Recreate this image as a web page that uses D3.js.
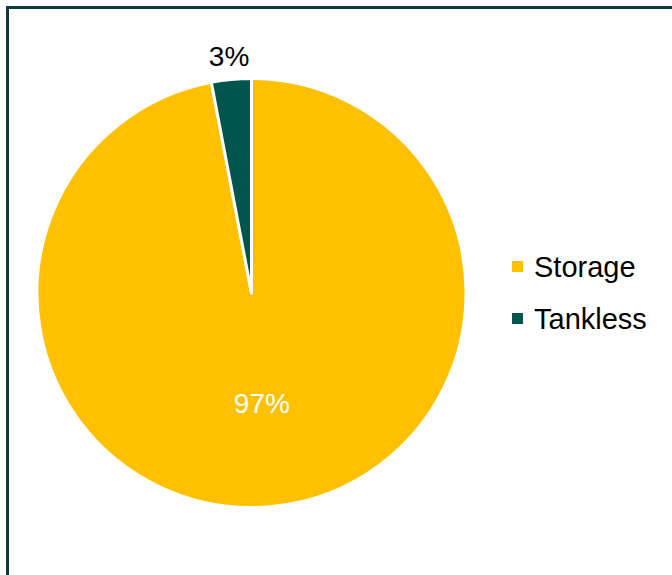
<!DOCTYPE html>
<html>
<head>
<meta charset="utf-8">
<script src="https://cdn.jsdelivr.net/npm/d3@7"></script>
<style>
  html, body { margin: 0; padding: 0; background: #fff; overflow: hidden; }
  svg { display: block; font-family: "Liberation Sans", Arial, sans-serif; }
</style>
</head>
<body>
<svg id="chart" width="672" height="575"></svg>
<script>
// Water heater types by share
const categories = ["Storage", "Tankless"];
const shares = [97, 3];
const colors = ["#FFC000", "#00564F"];

const svg = d3.select("#chart");

// Chart frame (extends past the right and bottom edges)
svg.append("rect")
  .attr("x", 7.5).attr("y", 7.5)
  .attr("width", 720).attr("height", 720)
  .attr("fill", "#fff")
  .attr("stroke", "#0E3A38")
  .attr("stroke-width", 3);

const cx = 251.5, cy = 293, R = 214.5;
const data = categories.map((c, i) => ({ name: c, value: shares[i], color: colors[i] }));

const pie = d3.pie().value(d => d.value).sort(null);
const arcs = pie(data);
const arc = d3.arc().innerRadius(0).outerRadius(R);

const g = svg.append("g").attr("transform", `translate(${cx},${cy})`);

g.selectAll("path.slice")
  .data(arcs)
  .join("path")
  .attr("class", "slice")
  .attr("d", arc)
  .attr("fill", d => d.data.color)
  .attr("stroke", "#fff")
  .attr("stroke-width", 3)
  .attr("stroke-linejoin", "round");

// Percentage labels: inside for the large slice, outside for the small one
const labelInner = d3.arc().innerRadius(110).outerRadius(110);
const labelOuter = d3.arc().innerRadius(238).outerRadius(238);

g.selectAll("text.pct")
  .data(arcs)
  .join("text")
  .attr("class", "pct")
  .attr("transform", d => {
    const p = (d.data.value > 10 ? labelInner : labelOuter).centroid(d);
    return `translate(${p[0]},${p[1]})`;
  })
  .attr("text-anchor", "middle")
  .attr("dy", "0.36em")
  .attr("font-size", 28)
  .attr("fill", d => d.data.value > 10 ? "#fff" : "#000")
  .text(d => d3.format(".0f")(d.data.value) + "%");

// Legend
const legend = svg.append("g").attr("transform", "translate(512,261)");
const rows = legend.selectAll("g.row")
  .data(data)
  .join("g")
  .attr("class", "row")
  .attr("transform", (d, i) => `translate(0,${i * 52})`);

rows.append("rect")
  .attr("width", 11).attr("height", 11)
  .attr("fill", d => d.color);

rows.append("text")
  .attr("x", 22)
  .attr("y", 16)
  .attr("font-size", 29)
  .attr("fill", "#000")
  .text(d => d.name);
</script>
</body>
</html>
